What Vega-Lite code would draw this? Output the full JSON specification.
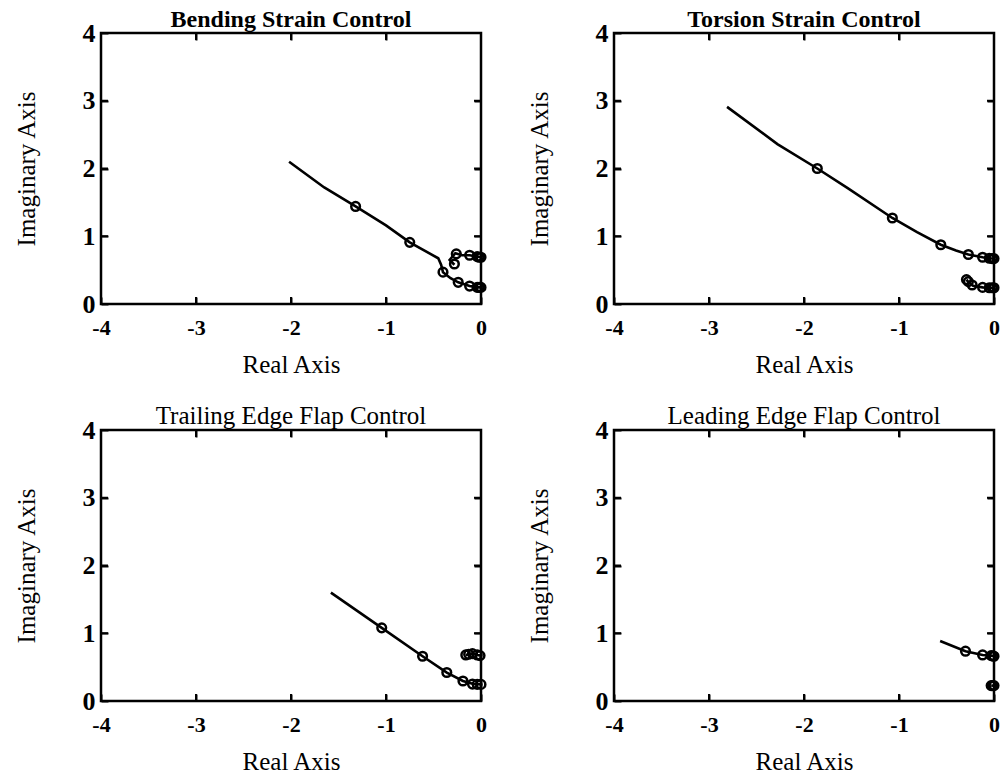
{
  "$schema": "https://vega.github.io/schema/vega-lite/v6.json",
  "padding": {"left": 12, "top": 6, "right": 0, "bottom": 0},
  "background": "white",
  "datasets": {
    "locus": [
      {"panel": "bend", "branch": "a", "k": 1, "re": -2.02, "im": 2.10},
      {"panel": "bend", "branch": "a", "k": 2, "re": -1.65, "im": 1.72},
      {"panel": "bend", "branch": "a", "k": 3, "re": -1.32, "im": 1.44},
      {"panel": "bend", "branch": "a", "k": 4, "re": -1.00, "im": 1.16},
      {"panel": "bend", "branch": "a", "k": 5, "re": -0.75, "im": 0.91},
      {"panel": "bend", "branch": "a", "k": 6, "re": -0.45, "im": 0.675},
      {"panel": "bend", "branch": "a", "k": 7, "re": -0.42, "im": 0.58},
      {"panel": "bend", "branch": "a", "k": 8, "re": -0.40, "im": 0.47},
      {"panel": "bend", "branch": "a", "k": 9, "re": -0.32, "im": 0.38},
      {"panel": "bend", "branch": "a", "k": 10, "re": -0.24, "im": 0.32},
      {"panel": "bend", "branch": "a", "k": 11, "re": -0.12, "im": 0.265},
      {"panel": "bend", "branch": "a", "k": 12, "re": -0.03, "im": 0.245},
      {"panel": "bend", "branch": "a", "k": 13, "re": 0.0, "im": 0.245},
      {"panel": "bend", "branch": "b", "k": 1, "re": -0.28, "im": 0.58},
      {"panel": "bend", "branch": "b", "k": 2, "re": -0.33, "im": 0.65},
      {"panel": "bend", "branch": "b", "k": 3, "re": -0.27, "im": 0.75},
      {"panel": "bend", "branch": "b", "k": 4, "re": -0.20, "im": 0.72},
      {"panel": "bend", "branch": "b", "k": 5, "re": -0.12, "im": 0.72},
      {"panel": "bend", "branch": "b", "k": 6, "re": -0.04, "im": 0.70},
      {"panel": "bend", "branch": "b", "k": 7, "re": 0.0, "im": 0.69},

      {"panel": "torsion", "branch": "a", "k": 1, "re": -2.81, "im": 2.91},
      {"panel": "torsion", "branch": "a", "k": 2, "re": -2.28, "im": 2.36},
      {"panel": "torsion", "branch": "a", "k": 3, "re": -1.86, "im": 2.0},
      {"panel": "torsion", "branch": "a", "k": 4, "re": -1.54, "im": 1.71},
      {"panel": "torsion", "branch": "a", "k": 5, "re": -1.07, "im": 1.27},
      {"panel": "torsion", "branch": "a", "k": 6, "re": -0.81, "im": 1.06},
      {"panel": "torsion", "branch": "a", "k": 7, "re": -0.56, "im": 0.875},
      {"panel": "torsion", "branch": "a", "k": 8, "re": -0.40, "im": 0.79},
      {"panel": "torsion", "branch": "a", "k": 9, "re": -0.27, "im": 0.73},
      {"panel": "torsion", "branch": "a", "k": 10, "re": -0.12, "im": 0.69},
      {"panel": "torsion", "branch": "a", "k": 11, "re": -0.04, "im": 0.675},
      {"panel": "torsion", "branch": "a", "k": 12, "re": 0.0, "im": 0.67},
      {"panel": "torsion", "branch": "b", "k": 1, "re": -0.29, "im": 0.36},
      {"panel": "torsion", "branch": "b", "k": 2, "re": -0.26, "im": 0.31},
      {"panel": "torsion", "branch": "b", "k": 3, "re": -0.22, "im": 0.27},
      {"panel": "torsion", "branch": "b", "k": 4, "re": -0.12, "im": 0.245},
      {"panel": "torsion", "branch": "b", "k": 5, "re": -0.04, "im": 0.24},
      {"panel": "torsion", "branch": "b", "k": 6, "re": 0.0, "im": 0.24},

      {"panel": "trailing", "branch": "a", "k": 1, "re": -1.58, "im": 1.60},
      {"panel": "trailing", "branch": "a", "k": 2, "re": -1.045, "im": 1.08},
      {"panel": "trailing", "branch": "a", "k": 3, "re": -0.615, "im": 0.66},
      {"panel": "trailing", "branch": "a", "k": 4, "re": -0.36, "im": 0.42},
      {"panel": "trailing", "branch": "a", "k": 5, "re": -0.19, "im": 0.295},
      {"panel": "trailing", "branch": "a", "k": 6, "re": -0.08, "im": 0.25},
      {"panel": "trailing", "branch": "a", "k": 7, "re": 0.0, "im": 0.245},
      {"panel": "trailing", "branch": "b", "k": 1, "re": -0.16, "im": 0.68},
      {"panel": "trailing", "branch": "b", "k": 2, "re": -0.09, "im": 0.70},
      {"panel": "trailing", "branch": "b", "k": 3, "re": -0.04, "im": 0.68},
      {"panel": "trailing", "branch": "b", "k": 4, "re": 0.0, "im": 0.67},

      {"panel": "leading", "branch": "a", "k": 1, "re": -0.567, "im": 0.885},
      {"panel": "leading", "branch": "a", "k": 2, "re": -0.30, "im": 0.735},
      {"panel": "leading", "branch": "a", "k": 3, "re": -0.12, "im": 0.68},
      {"panel": "leading", "branch": "a", "k": 4, "re": -0.03, "im": 0.67},
      {"panel": "leading", "branch": "a", "k": 5, "re": 0.0, "im": 0.66},
      {"panel": "leading", "branch": "b", "k": 1, "re": -0.03, "im": 0.227},
      {"panel": "leading", "branch": "b", "k": 2, "re": 0.0, "im": 0.227}
    ],
    "gains": [
      {"panel": "bend", "re": -1.32, "im": 1.44},
      {"panel": "bend", "re": -0.75, "im": 0.91},
      {"panel": "bend", "re": -0.40, "im": 0.47},
      {"panel": "bend", "re": -0.24, "im": 0.32},
      {"panel": "bend", "re": -0.12, "im": 0.265},
      {"panel": "bend", "re": -0.04, "im": 0.245},
      {"panel": "bend", "re": -0.02, "im": 0.245},
      {"panel": "bend", "re": 0.0, "im": 0.245},
      {"panel": "bend", "re": -0.26, "im": 0.74},
      {"panel": "bend", "re": -0.28, "im": 0.59},
      {"panel": "bend", "re": -0.12, "im": 0.72},
      {"panel": "bend", "re": -0.04, "im": 0.70},
      {"panel": "bend", "re": -0.02, "im": 0.69},
      {"panel": "bend", "re": 0.0, "im": 0.69},

      {"panel": "torsion", "re": -1.86, "im": 2.0},
      {"panel": "torsion", "re": -1.07, "im": 1.27},
      {"panel": "torsion", "re": -0.56, "im": 0.875},
      {"panel": "torsion", "re": -0.27, "im": 0.73},
      {"panel": "torsion", "re": -0.12, "im": 0.69},
      {"panel": "torsion", "re": -0.05, "im": 0.675},
      {"panel": "torsion", "re": -0.02, "im": 0.67},
      {"panel": "torsion", "re": 0.0, "im": 0.67},
      {"panel": "torsion", "re": -0.29, "im": 0.36},
      {"panel": "torsion", "re": -0.27, "im": 0.33},
      {"panel": "torsion", "re": -0.23, "im": 0.28},
      {"panel": "torsion", "re": -0.12, "im": 0.245},
      {"panel": "torsion", "re": -0.05, "im": 0.24},
      {"panel": "torsion", "re": -0.02, "im": 0.24},
      {"panel": "torsion", "re": 0.0, "im": 0.24},

      {"panel": "trailing", "re": -1.045, "im": 1.08},
      {"panel": "trailing", "re": -0.615, "im": 0.66},
      {"panel": "trailing", "re": -0.36, "im": 0.42},
      {"panel": "trailing", "re": -0.19, "im": 0.295},
      {"panel": "trailing", "re": -0.09, "im": 0.25},
      {"panel": "trailing", "re": -0.04, "im": 0.245},
      {"panel": "trailing", "re": 0.0, "im": 0.245},
      {"panel": "trailing", "re": -0.16, "im": 0.68},
      {"panel": "trailing", "re": -0.13, "im": 0.69},
      {"panel": "trailing", "re": -0.09, "im": 0.70},
      {"panel": "trailing", "re": -0.04, "im": 0.68},
      {"panel": "trailing", "re": -0.01, "im": 0.67},

      {"panel": "leading", "re": -0.30, "im": 0.735},
      {"panel": "leading", "re": -0.12, "im": 0.68},
      {"panel": "leading", "re": -0.03, "im": 0.67},
      {"panel": "leading", "re": -0.01, "im": 0.665},
      {"panel": "leading", "re": 0.0, "im": 0.66},
      {"panel": "leading", "re": -0.03, "im": 0.227},
      {"panel": "leading", "re": -0.015, "im": 0.227},
      {"panel": "leading", "re": 0.0, "im": 0.227}
    ],
    "realTicks": [{"v": -3}, {"v": -2}, {"v": -1}],
    "imagTicks": [{"v": 1}, {"v": 2}, {"v": 3}]
  },
  "columns": 2,
  "spacing": {"column": 33, "row": 23},
  "concat": [
    {
      "title": {"text": "Bending Strain Control", "fontWeight": "bold", "fontSize": 24},
      "width": 380, "height": 271,
      "resolve": {"axis": {"x": "independent", "y": "independent"}},
      "layer": [
        {
          "data": {"name": "locus"},
          "transform": [{"filter": "datum.panel === 'bend'"}],
          "mark": {"type": "line", "color": "black", "strokeWidth": 2.6},
          "encoding": {
            "x": {"field": "re", "type": "quantitative", "scale": {"domain": [-4, 0], "nice": false, "zero": false}, "axis": {"orient": "bottom", "title": "Real Axis", "values": [-4, -3, -2, -1, 0], "labelExpr": "'' + datum.value"}},
            "y": {"field": "im", "type": "quantitative", "scale": {"domain": [0, 4], "nice": false}, "axis": {"orient": "left", "title": "Imaginary Axis", "values": [0, 1, 2, 3, 4], "labelExpr": "'' + datum.value"}},
            "detail": {"field": "branch"},
            "order": {"field": "k"}
          }
        },
        {
          "data": {"name": "gains"},
          "transform": [{"filter": "datum.panel === 'bend'"}],
          "mark": {"type": "point", "shape": "circle", "filled": false, "color": "black", "opacity": 1, "size": 75, "strokeWidth": 2.5},
          "encoding": {
            "x": {"field": "re", "type": "quantitative", "axis": {"orient": "top", "title": null, "labels": false, "values": [-3, -2, -1]}},
            "y": {"field": "im", "type": "quantitative", "axis": {"orient": "right", "title": null, "labels": false, "values": [1, 2, 3]}}
          }
        },
        {
          "data": {"name": "realTicks"},
          "mark": {"type": "tick", "orient": "vertical", "size": 14, "thickness": 2, "color": "black", "opacity": 1, "clip": true},
          "encoding": {"x": {"field": "v", "type": "quantitative", "axis": null}, "y": {"datum": 0, "type": "quantitative", "axis": null}}
        },
        {
          "data": {"name": "realTicks"},
          "mark": {"type": "tick", "orient": "vertical", "size": 14, "thickness": 2, "color": "black", "opacity": 1, "clip": true},
          "encoding": {"x": {"field": "v", "type": "quantitative", "axis": null}, "y": {"datum": 4, "type": "quantitative", "axis": null}}
        },
        {
          "data": {"name": "imagTicks"},
          "mark": {"type": "tick", "orient": "horizontal", "size": 14, "thickness": 2, "color": "black", "opacity": 1, "clip": true},
          "encoding": {"y": {"field": "v", "type": "quantitative", "axis": null}, "x": {"datum": -4, "type": "quantitative", "axis": null}}
        },
        {
          "data": {"name": "imagTicks"},
          "mark": {"type": "tick", "orient": "horizontal", "size": 14, "thickness": 2, "color": "black", "opacity": 1, "clip": true},
          "encoding": {"y": {"field": "v", "type": "quantitative", "axis": null}, "x": {"datum": 0, "type": "quantitative", "axis": null}}
        }
      ]
    },
    {
      "title": {"text": "Torsion Strain Control", "fontWeight": "bold", "fontSize": 24},
      "width": 380, "height": 271,
      "resolve": {"axis": {"x": "independent", "y": "independent"}},
      "layer": [
        {
          "data": {"name": "locus"},
          "transform": [{"filter": "datum.panel === 'torsion'"}],
          "mark": {"type": "line", "color": "black", "strokeWidth": 2.6},
          "encoding": {
            "x": {"field": "re", "type": "quantitative", "scale": {"domain": [-4, 0], "nice": false, "zero": false}, "axis": {"orient": "bottom", "title": "Real Axis", "values": [-4, -3, -2, -1, 0], "labelExpr": "'' + datum.value"}},
            "y": {"field": "im", "type": "quantitative", "scale": {"domain": [0, 4], "nice": false}, "axis": {"orient": "left", "title": "Imaginary Axis", "values": [0, 1, 2, 3, 4], "labelExpr": "'' + datum.value"}},
            "detail": {"field": "branch"},
            "order": {"field": "k"}
          }
        },
        {
          "data": {"name": "gains"},
          "transform": [{"filter": "datum.panel === 'torsion'"}],
          "mark": {"type": "point", "shape": "circle", "filled": false, "color": "black", "opacity": 1, "size": 75, "strokeWidth": 2.5},
          "encoding": {
            "x": {"field": "re", "type": "quantitative", "axis": {"orient": "top", "title": null, "labels": false, "values": [-3, -2, -1]}},
            "y": {"field": "im", "type": "quantitative", "axis": {"orient": "right", "title": null, "labels": false, "values": [1, 2, 3]}}
          }
        },
        {
          "data": {"name": "realTicks"},
          "mark": {"type": "tick", "orient": "vertical", "size": 14, "thickness": 2, "color": "black", "opacity": 1, "clip": true},
          "encoding": {"x": {"field": "v", "type": "quantitative", "axis": null}, "y": {"datum": 0, "type": "quantitative", "axis": null}}
        },
        {
          "data": {"name": "realTicks"},
          "mark": {"type": "tick", "orient": "vertical", "size": 14, "thickness": 2, "color": "black", "opacity": 1, "clip": true},
          "encoding": {"x": {"field": "v", "type": "quantitative", "axis": null}, "y": {"datum": 4, "type": "quantitative", "axis": null}}
        },
        {
          "data": {"name": "imagTicks"},
          "mark": {"type": "tick", "orient": "horizontal", "size": 14, "thickness": 2, "color": "black", "opacity": 1, "clip": true},
          "encoding": {"y": {"field": "v", "type": "quantitative", "axis": null}, "x": {"datum": -4, "type": "quantitative", "axis": null}}
        },
        {
          "data": {"name": "imagTicks"},
          "mark": {"type": "tick", "orient": "horizontal", "size": 14, "thickness": 2, "color": "black", "opacity": 1, "clip": true},
          "encoding": {"y": {"field": "v", "type": "quantitative", "axis": null}, "x": {"datum": 0, "type": "quantitative", "axis": null}}
        }
      ]
    },
    {
      "title": {"text": "Trailing Edge Flap Control"},
      "width": 380, "height": 271,
      "resolve": {"axis": {"x": "independent", "y": "independent"}},
      "layer": [
        {
          "data": {"name": "locus"},
          "transform": [{"filter": "datum.panel === 'trailing'"}],
          "mark": {"type": "line", "color": "black", "strokeWidth": 2.6},
          "encoding": {
            "x": {"field": "re", "type": "quantitative", "scale": {"domain": [-4, 0], "nice": false, "zero": false}, "axis": {"orient": "bottom", "title": "Real Axis", "values": [-4, -3, -2, -1, 0], "labelExpr": "'' + datum.value"}},
            "y": {"field": "im", "type": "quantitative", "scale": {"domain": [0, 4], "nice": false}, "axis": {"orient": "left", "title": "Imaginary Axis", "values": [0, 1, 2, 3, 4], "labelExpr": "'' + datum.value"}},
            "detail": {"field": "branch"},
            "order": {"field": "k"}
          }
        },
        {
          "data": {"name": "gains"},
          "transform": [{"filter": "datum.panel === 'trailing'"}],
          "mark": {"type": "point", "shape": "circle", "filled": false, "color": "black", "opacity": 1, "size": 75, "strokeWidth": 2.5},
          "encoding": {
            "x": {"field": "re", "type": "quantitative", "axis": {"orient": "top", "title": null, "labels": false, "values": [-3, -2, -1]}},
            "y": {"field": "im", "type": "quantitative", "axis": {"orient": "right", "title": null, "labels": false, "values": [1, 2, 3]}}
          }
        },
        {
          "data": {"name": "realTicks"},
          "mark": {"type": "tick", "orient": "vertical", "size": 14, "thickness": 2, "color": "black", "opacity": 1, "clip": true},
          "encoding": {"x": {"field": "v", "type": "quantitative", "axis": null}, "y": {"datum": 0, "type": "quantitative", "axis": null}}
        },
        {
          "data": {"name": "realTicks"},
          "mark": {"type": "tick", "orient": "vertical", "size": 14, "thickness": 2, "color": "black", "opacity": 1, "clip": true},
          "encoding": {"x": {"field": "v", "type": "quantitative", "axis": null}, "y": {"datum": 4, "type": "quantitative", "axis": null}}
        },
        {
          "data": {"name": "imagTicks"},
          "mark": {"type": "tick", "orient": "horizontal", "size": 14, "thickness": 2, "color": "black", "opacity": 1, "clip": true},
          "encoding": {"y": {"field": "v", "type": "quantitative", "axis": null}, "x": {"datum": -4, "type": "quantitative", "axis": null}}
        },
        {
          "data": {"name": "imagTicks"},
          "mark": {"type": "tick", "orient": "horizontal", "size": 14, "thickness": 2, "color": "black", "opacity": 1, "clip": true},
          "encoding": {"y": {"field": "v", "type": "quantitative", "axis": null}, "x": {"datum": 0, "type": "quantitative", "axis": null}}
        }
      ]
    },
    {
      "title": {"text": "Leading Edge Flap Control"},
      "width": 380, "height": 271,
      "resolve": {"axis": {"x": "independent", "y": "independent"}},
      "layer": [
        {
          "data": {"name": "locus"},
          "transform": [{"filter": "datum.panel === 'leading'"}],
          "mark": {"type": "line", "color": "black", "strokeWidth": 2.6},
          "encoding": {
            "x": {"field": "re", "type": "quantitative", "scale": {"domain": [-4, 0], "nice": false, "zero": false}, "axis": {"orient": "bottom", "title": "Real Axis", "values": [-4, -3, -2, -1, 0], "labelExpr": "'' + datum.value"}},
            "y": {"field": "im", "type": "quantitative", "scale": {"domain": [0, 4], "nice": false}, "axis": {"orient": "left", "title": "Imaginary Axis", "values": [0, 1, 2, 3, 4], "labelExpr": "'' + datum.value"}},
            "detail": {"field": "branch"},
            "order": {"field": "k"}
          }
        },
        {
          "data": {"name": "gains"},
          "transform": [{"filter": "datum.panel === 'leading'"}],
          "mark": {"type": "point", "shape": "circle", "filled": false, "color": "black", "opacity": 1, "size": 75, "strokeWidth": 2.5},
          "encoding": {
            "x": {"field": "re", "type": "quantitative", "axis": {"orient": "top", "title": null, "labels": false, "values": [-3, -2, -1]}},
            "y": {"field": "im", "type": "quantitative", "axis": {"orient": "right", "title": null, "labels": false, "values": [1, 2, 3]}}
          }
        },
        {
          "data": {"name": "realTicks"},
          "mark": {"type": "tick", "orient": "vertical", "size": 14, "thickness": 2, "color": "black", "opacity": 1, "clip": true},
          "encoding": {"x": {"field": "v", "type": "quantitative", "axis": null}, "y": {"datum": 0, "type": "quantitative", "axis": null}}
        },
        {
          "data": {"name": "realTicks"},
          "mark": {"type": "tick", "orient": "vertical", "size": 14, "thickness": 2, "color": "black", "opacity": 1, "clip": true},
          "encoding": {"x": {"field": "v", "type": "quantitative", "axis": null}, "y": {"datum": 4, "type": "quantitative", "axis": null}}
        },
        {
          "data": {"name": "imagTicks"},
          "mark": {"type": "tick", "orient": "horizontal", "size": 14, "thickness": 2, "color": "black", "opacity": 1, "clip": true},
          "encoding": {"y": {"field": "v", "type": "quantitative", "axis": null}, "x": {"datum": -4, "type": "quantitative", "axis": null}}
        },
        {
          "data": {"name": "imagTicks"},
          "mark": {"type": "tick", "orient": "horizontal", "size": 14, "thickness": 2, "color": "black", "opacity": 1, "clip": true},
          "encoding": {"y": {"field": "v", "type": "quantitative", "axis": null}, "x": {"datum": 0, "type": "quantitative", "axis": null}}
        }
      ]
    }
  ],
  "config": {
    "font": "Liberation Serif",
    "view": {"stroke": "black", "strokeWidth": 2.5},
    "title": {"font": "Liberation Serif", "fontSize": 25, "fontWeight": "normal", "color": "black", "anchor": "middle", "frame": "group", "offset": -12},
    "axis": {
      "zindex": 1,
      "domain": false,
      "grid": false,
      "ticks": true,
      "tickColor": "black",
      "tickWidth": 2,
      "tickSize": 7,
      "offset": -7,
      "labelFlush": false,
      "labelFont": "Liberation Serif",
      "labelFontWeight": "bold",
      "labelColor": "black",
      "titleFont": "Liberation Serif",
      "titleFontSize": 25,
      "titleFontWeight": "normal",
      "titleColor": "black"
    },
    "axisX": {"labelFontSize": 22, "labelPadding": 13, "titlePadding": 14},
    "axisY": {"labelFontSize": 26, "labelPadding": 6, "titlePadding": 43}
  }
}
